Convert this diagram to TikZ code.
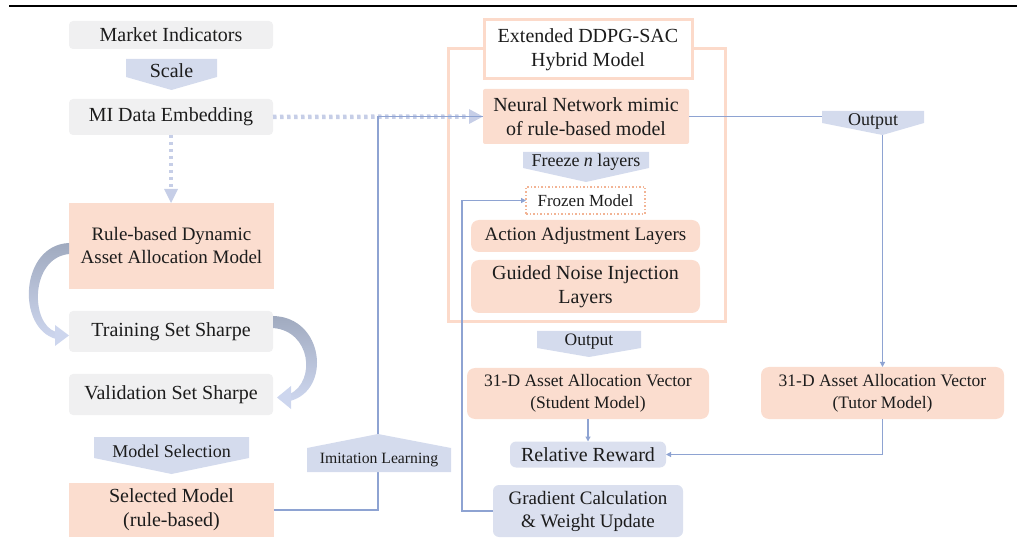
\documentclass[tikz,border=0pt]{standalone}
\usepackage{fontspec}
\setmainfont{Liberation Serif}
\usetikzlibrary{arrows.meta}
\definecolor{grayfill}{HTML}{F0F0F1}
\definecolor{salmon}{HTML}{FBDDCF}
\definecolor{chev}{HTML}{D4DBED}
\definecolor{bluebox}{HTML}{DBE0EF}
\definecolor{conncol}{HTML}{8EA3D2}
\definecolor{framecol}{HTML}{FCDACA}
\definecolor{dotcol}{HTML}{C6CEE7}
\definecolor{frozcol}{HTML}{F2B495}
\definecolor{txt}{HTML}{1C1C1C}
\definecolor{arrA}{HTML}{A0AABF}
\definecolor{arrB}{HTML}{CDD6EE}
\begin{document}
\begin{tikzpicture}[x=1pt,y=-1pt,
  base/.style={inner sep=0pt, outer sep=0pt, align=center, text=txt},
  fs20/.style={font=\fontsize{20}{24}\selectfont},
  fs19/.style={font=\fontsize{19}{23}\selectfont},
  fs18/.style={font=\fontsize{18}{22}\selectfont},
  fs17/.style={font=\fontsize{17.5}{22}\selectfont},
  fs16/.style={font=\fontsize{15.8}{19}\selectfont},
  graybox/.style={base, fill=grayfill, rounded corners=4pt},
  rulebox/.style={base, fill=salmon},
  salbox/.style={base, fill=salmon, rounded corners=8pt},
  bluebx/.style={base, fill=bluebox, rounded corners=6pt},
  chevfill/.style={fill=chev},
  conn/.style={draw=conncol, line width=1.2pt},
  tipa/.style={-{Triangle[length=5pt,width=5pt]}},
  dotline/.style={draw=dotcol, line width=4.5pt, dash pattern=on 3.5pt off 3.5pt},
  biglight/.style={fill=dotcol}
]
\useasboundingbox (0,0) rectangle (1026,545);

% top rule
\draw[line width=2pt, black] (9,6) -- (1017,6);

% ---------- left column boxes ----------
\node[graybox, fs20, minimum width=204pt, minimum height=28pt] (mi) at (171,35) {Market Indicators};
\node[graybox, fs20, minimum width=204pt, minimum height=36pt] (emb) at (171,117) {MI Data Embedding};
\node[rulebox, fs19, minimum width=205pt, minimum height=86pt] (rule) at (171.5,246) {Rule-based Dynamic\\Asset Allocation Model};
\node[graybox, fs20, minimum width=204pt, minimum height=41pt] (train) at (171,331.5) {Training Set Sharpe};
\node[graybox, fs20, minimum width=204pt, minimum height=41pt] (val) at (171,394.5) {Validation Set Sharpe};
\node[rulebox, fs20, minimum width=205pt, minimum height=54pt] (sel) at (171.5,510) {Selected Model\\(rule-based)};

% chevrons left
\fill[chevfill] (126,59) -- (217,59) -- (217,77) -- (171.5,90) -- (126,77) -- cycle;
\node[base, fs20] (scale) at (171.5,71) {Scale};
\fill[chevfill] (94,437) -- (249,437) -- (249,458) -- (171.5,474) -- (94,458) -- cycle;
\node[base, fs18] (msel) at (171.5,451) {Model Selection};

% curved arrows
\shade[top color=arrA, bottom color=arrB]
  (69,243) .. controls (20,245) and (16,328) .. (56,339)
  -- (56,332) .. controls (30,324) and (30,258) .. (69,254) -- cycle;
\fill[arrB] (55,325) -- (69,335.5) -- (55,346) -- cycle;
\shade[top color=arrA, bottom color=arrB]
  (273,316) .. controls (324,317) and (332,390) .. (290,401)
  -- (290,394) .. controls (316,381) and (311,331) .. (273,328) -- cycle;
\fill[arrB] (291,386) -- (277,397.5) -- (291,409) -- cycle;

% ---------- hybrid model frame ----------
\node[base, draw=framecol, line width=3pt, minimum width=277pt, minimum height=273pt] (frame) at (586.5,185.5) {};
\node[base, fs20, fill=white, draw=framecol, line width=3pt, minimum width=208pt, minimum height=59pt] (title) at (588,49.5) {Extended DDPG-SAC\\Hybrid Model};
\node[rulebox, fs20, rounded corners=2pt, minimum width=206pt, minimum height=55pt] (nn) at (586,116.5) {Neural Network mimic\\of rule-based model};
\fill[chevfill] (523,152) -- (649,152) -- (649,168) -- (586,182) -- (523,168) -- cycle;
\node[base, fs18] (freeze) at (586,162) {Freeze \textit{n} layers};
\node[base, font=\fontsize{17}{20}\selectfont, draw=frozcol, line width=1.5pt, dash pattern=on 1.5pt off 2pt, minimum width=119pt, minimum height=27pt] (frozen) at (585.5,200.5) {Frozen Model};
\node[salbox, fs19, minimum width=229pt, minimum height=32pt] (action) at (585.5,236) {Action Adjustment Layers};
\node[salbox, fs20, minimum width=229pt, minimum height=53pt] (guided) at (585.5,286.5) {Guided Noise Injection\\Layers};

% ---------- outputs ----------
\fill[chevfill] (537,331) -- (641,331) -- (641,348) -- (589,357) -- (537,348) -- cycle;
\node[base, fs17] (out1) at (589,342) {Output};
\node[salbox, fs17, minimum width=242pt, minimum height=51pt] (stud) at (588,393.5) {31-D Asset Allocation Vector\\(Student Model)};
\node[salbox, fs17, minimum width=243pt, minimum height=52pt] (tutor) at (882.5,393) {31-D Asset Allocation Vector\\(Tutor Model)};
\node[bluebx, fs20, minimum width=156pt, minimum height=26pt] (rel) at (588,454.5) {Relative Reward};
\node[bluebx, fs19, minimum width=190pt, minimum height=52pt] (grad) at (588,511) {Gradient Calculation\\\& Weight Update};

% ---------- connectors ----------
\coordinate (imtop) at (378,116.5);
\coordinate (gl) at (462,200.5);
\coordinate (out2w) at (822,116.5);
\coordinate (out2tip) at (882.5,135);

\draw[dotline] (emb.east) -- (470,116.5);
\fill[dotcol] (469,109) -- (483,116.5) -- (469,124) -- cycle;
\draw[dotline] (emb.south) -- (171,190);
\fill[dotcol] (164,189) -- (171,203) -- (178,189) -- cycle;

\draw[conn] (sel.east) -| (imtop) -- (nn.west);
\draw[conn] (nn.east) -- (out2w);
\draw[conn, tipa] (out2tip) -- (tutor.north);
\draw[conn, tipa] (stud.south) -- (rel.north);
\draw[conn, tipa] (tutor.south) |- (rel.east);
\draw[conn, tipa] (grad.west) -| (gl) -- (frozen.west);

% chevrons on lines
\fill[chevfill] (822,111) -- (924,111) -- (924,123) -- (882.5,135) -- (822,123) -- cycle;
\node[base, fs18] (out2) at (873,121) {Output};
\fill[chevfill] (307,448) -- (378,434) -- (451,448) -- (451,472) -- (307,472) -- cycle;
\node[base, font=\fontsize{15.7}{19}\selectfont] (imit) at (379,460) {Imitation Learning};
\end{tikzpicture}
\end{document}
